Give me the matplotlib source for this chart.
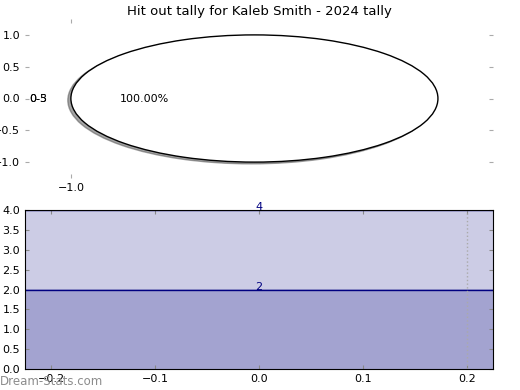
import matplotlib
matplotlib.use("Agg")
import matplotlib.pyplot as plt
from matplotlib.ticker import FuncFormatter

title = "Hit out tally for Kaleb Smith - 2024 tally"

# pie data
pie_values = [4]
pie_labels = ["0-5"]
extra_label = "0-3"

# stacked area data
area_x = [-0.225, 0.225]
area_totals = [4, 4]
area_lower = [2, 2]
area_notes = [4, 2]
marker_x = 0.2

navy = "#000080"
fmt = FuncFormatter(lambda v, p: f"{v:.1f}".replace("-", "\u2212"))

fig = plt.figure(figsize=(5.2, 3.9), dpi=100)
ax1 = fig.add_axes([25/520, 1-178/390, 468/520, 159/390])
ax2 = fig.add_axes([25/520, 1-369/390, 468/520, 159/390])

# --- top: pie ---
wedges, texts, autotexts = ax1.pie(pie_values, labels=pie_labels, autopct="%.2f%%",
                                   shadow=dict(ox=-0.012, oy=-0.02),
                                   colors=["white"], labeldistance=1.13,
                                   wedgeprops=dict(edgecolor="black", linewidth=1),
                                   textprops=dict(fontsize=8))
lx, ly = texts[0].get_position()
ax1.text(lx, ly, extra_label, ha=texts[0].get_ha(), va=texts[0].get_va(), fontsize=8)
ax1.set_aspect("auto")
ax1.set_frame_on(False)
ax1.set_xlim(-1.25, 1.3)
ax1.set_ylim(-1.25, 1.25)
ax1.set_xticks([-1.0])
ax1.set_yticks([-1.0, -0.5, 0.0, 0.5, 1.0])
ax1.xaxis.set_major_formatter(fmt)
ax1.yaxis.set_major_formatter(fmt)
ax1.tick_params(direction="in", length=3, color="#aaaaaa", labelsize=8,
                top=True, right=True)
ax1.set_title(title, fontsize=9.5, pad=3)

# --- bottom: stacked area ---
ax2.fill_between(area_x, 0, area_totals, color=navy, alpha=0.2, linewidth=0)
ax2.fill_between(area_x, 0, area_lower, color=navy, alpha=0.2, linewidth=0)
ax2.plot(area_x, area_lower, color=navy, linewidth=1)
ax2.plot(area_x, area_totals, color=navy, linewidth=1)
for v in area_notes:
    ax2.text(0, v, str(v), color=navy, fontsize=8, ha="center", va="baseline")
ax2.axvline(marker_x, color="#aaaaaa", linestyle=":", linewidth=1)
ax2.set_xlim(area_x[0], area_x[1])
ax2.set_ylim(0, 4)
ax2.set_xticks([-0.2, -0.1, 0.0, 0.1, 0.2])
ax2.set_yticks([0, 0.5, 1, 1.5, 2, 2.5, 3, 3.5, 4])
ax2.tick_params(direction="in", length=3, color="#888888", labelsize=8,
                top=True, right=True)
for s in ax2.spines.values():
    s.set_color("black")

fig.text(0.0, 0.005, "Dream-Stats.com", color="#8c8c8c", fontsize=8.5, ha="left", va="bottom")

fig.savefig("out.png", dpi=100)
